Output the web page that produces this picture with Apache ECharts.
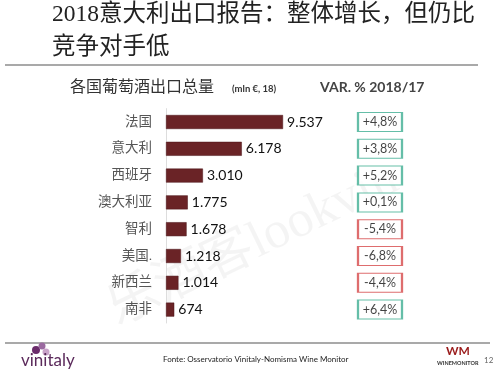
<!DOCTYPE html>
<html><head><meta charset="utf-8">
<script src="https://cdn.jsdelivr.net/npm/echarts@6/dist/echarts.min.js"></script>
<style>html,body{margin:0;padding:0;background:#fff}#c{width:500px;height:375px}</style>
</head><body><div id="c"></div>
<script>
var categories = ['法国','意大利','西班牙','澳大利亚','智利','美国.','新西兰','南非'];
var exportValues = [9537, 6178, 3010, 1775, 1678, 1218, 1014, 674];
var valueLabels = ['9.537','6.178','3.010','1.775','1.678','1.218','1.014','674'];
var variations = ['+4,8%','+3,8%','+5,2%','+0,1%','-5,4%','-6,8%','-4,4%','+6,4%'];

var chart = echarts.init(document.getElementById('c'));
var serifCJK = '"Liberation Serif", "Noto Sans CJK SC", serif';
var gill = '"Lato", "Open Sans", sans-serif';
var greenC = '#3fae92', redC = '#d6494a';

chart.setOption({
  animation: false,
  backgroundColor: '#fff',
  graphic: [
    {type:'text', x:100, y:290, rotation:0.45, z:-1, style:{text:'乐酒客lookvin', font:'52px ' + serifCJK, fill:'rgba(0,0,0,0.045)', textBaseline:'bottom'}},
    {type:'text', left:52, top:3, style:{text:'2018意大利出口报告：整体增长，但仍比', font:'23.5px ' + serifCJK, fill:'#222'}},
    {type:'text', left:52, top:36, style:{text:'竞争对手低', font:'23.5px ' + serifCJK, fill:'#222'}},
    {type:'line', shape:{x1:5,y1:65,x2:478,y2:65}, style:{stroke:'#555', lineWidth:1.2}},
    {type:'text', left:70, top:80, style:{text:'各国葡萄酒出口总量', font:'16px ' + serifCJK, fill:'#333'}},
    {type:'text', left:232, top:84, style:{text:'(mln €, 18)', font:'bold 9.5px ' + gill, fill:'#333'}},
    {type:'text', left:320, top:80, style:{text:'VAR. % 2018/17', font:'bold 14px ' + gill, fill:'#444'}},
    {type:'line', shape:{x1:5,y1:343,x2:490,y2:343}, style:{stroke:'#555', lineWidth:1.2}},
    {type:'circle', shape:{cx:36,cy:350,r:4}, style:{fill:'#6b2c6b'}},
    {type:'circle', shape:{cx:42,cy:346,r:3.5}, style:{fill:'#9b6aa0'}},
    {type:'circle', shape:{cx:46,cy:352,r:3.5}, style:{fill:'#c9a3c9'}},
    {type:'text', left:21, top:352, style:{text:'vinitaly', font:'17px ' + gill, fill:'#5b2a5b'}},
    {type:'text', left:163, top:355, style:{text:'Fonte: Osservatorio Vinitaly-Nomisma Wine Monitor', font:'8px ' + gill, fill:'#222'}},
    {type:'text', left:446, top:345, style:{text:'WM', font:'bold 12px ' + gill, fill:'#9a1b1b'}},
    {type:'text', left:437, top:360, style:{text:'WINEMONITOR', font:'bold 5.5px ' + gill, fill:'#333'}},
    {type:'text', left:484, top:356, style:{text:'12', font:'8px ' + gill, fill:'#666'}}
  ],
  grid: [
    {left:166, top:108.6, width:122.7, height:214.4},
    {left:358, top:108.6, width:44, height:214.4}
  ],
  xAxis: [
    {gridIndex:0, type:'value', min:0, max:10000, show:false},
    {gridIndex:1, type:'value', min:-1, max:1, show:false}
  ],
  yAxis: [
    {gridIndex:0, type:'category', data:categories, inverse:true,
     axisLine:{show:true, lineStyle:{color:'#ddd', width:1}}, axisTick:{show:false},
     axisLabel:{color:'#555', fontSize:13.5, margin:14, fontFamily:serifCJK}},
    {gridIndex:1, type:'category', data:categories, inverse:true, show:false}
  ],
  series: [
    {type:'bar', xAxisIndex:0, yAxisIndex:0, data:exportValues, barWidth:14,
     itemStyle:{color:'#6a2326', borderColor:'#4a1518', borderWidth:0.5},
     label:{show:true, position:'right', distance:4, color:'#111', fontSize:14, fontFamily:gill,
       formatter:function(p){return valueLabels[p.dataIndex];}}},
    {type:'scatter', xAxisIndex:1, yAxisIndex:1, symbol:'rect', symbolSize:[44,19],
     data: variations.map(function(v,i){return {value:[0,categories[i]], name:v,
       itemStyle:{color:'#fff', borderColor: v.charAt(0)==='-' ? redC : greenC, borderWidth:1.5}};}),
     label:{show:true, position:'inside', color:'#111', fontSize:12.5, fontFamily:gill,
       formatter:function(p){return variations[p.dataIndex];}}}
  ]
});
</script></body></html>
